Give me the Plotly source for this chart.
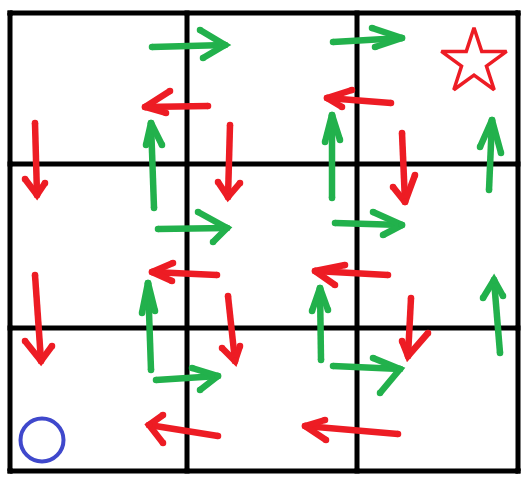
import plotly.graph_objects as go

# Grid line positions (pixel-like drawing units)
grid_x = [10, 187, 357, 518]
grid_y = [13, 164, 328, 471]

# Arrows: tail, head, wing1, wing2
red_tail_x = [208, 35, 230, 391, 402, 217, 35, 228, 218, 388, 411, 398]
red_tail_y = [106, 123, 125, 103, 133, 275, 275, 296, 436, 275, 298, 434]
red_head_x = [145, 37, 228, 327, 405, 152, 41, 235, 149, 315, 408, 305]
red_head_y = [107, 195, 197, 98, 202, 272, 361, 361, 425, 271, 356, 426]
red_w1_x = [170, 25, 218, 352, 393, 173, 25, 222, 163, 345, 402, 325]
red_w1_y = [91, 179, 182, 90, 187, 263, 341, 348, 415, 265, 341, 420]
red_w2_x = [166, 45, 240, 342, 415, 172, 52, 240, 163, 335, 428, 326]
red_w2_y = [113, 183, 183, 107, 175, 281, 346, 346, 443, 285, 333, 440]

green_tail_x = [152, 154, 158, 333, 332, 335, 489, 151, 156, 321, 333, 500]
green_tail_y = [47, 208, 229, 42, 198, 223, 190, 370, 380, 360, 366, 353]
green_head_x = [225, 151, 227, 402, 332, 402, 492, 148, 218, 320, 400, 494]
green_head_y = [45, 123, 228, 38, 115, 225, 120, 283, 376, 288, 369, 280]
green_w1_x = [200, 146, 198, 372, 325, 373, 480, 142, 192, 312, 373, 483]
green_w1_y = [30, 145, 212, 28, 142, 212, 147, 313, 368, 311, 358, 298]
green_w2_x = [203, 162, 213, 375, 340, 383, 501, 155, 200, 328, 380, 503]
green_w2_y = [58, 145, 242, 47, 140, 235, 153, 311, 390, 310, 393, 296]

# Goal star and start circle
star_x = [474]
star_y = [62]
circle_x = [42]
circle_y = [440]

RED = "#ed1c24"
GREEN = "#22b14c"
BLUE = "#3f48cc"


def arrow_path(tx, ty, hx, hy, w1x, w1y, w2x, w2y):
    xs, ys = [], []
    for i in range(len(tx)):
        xs += [tx[i], hx[i], None, w1x[i], hx[i], w2x[i], None]
        ys += [ty[i], hy[i], None, w1y[i], hy[i], w2y[i], None]
    return xs, ys


fig = go.Figure()

# grid
gx, gy = [], []
for x in grid_x:
    gx += [x, x, None]
    gy += [grid_y[0], grid_y[-1], None]
for y in grid_y:
    gx += [grid_x[0], grid_x[-1], None]
    gy += [y, y, None]
fig.add_trace(go.Scatter(x=gx, y=gy, mode="lines+markers",
                         line=dict(color="black", width=5),
                         marker=dict(color="black", size=5, symbol="square"),
                         hoverinfo="skip", showlegend=False))

rx, ry = arrow_path(red_tail_x, red_tail_y, red_head_x, red_head_y,
                    red_w1_x, red_w1_y, red_w2_x, red_w2_y)
fig.add_trace(go.Scatter(x=rx, y=ry, mode="lines+markers",
                         line=dict(color=RED, width=6.5),
                         marker=dict(color=RED, size=6.5),
                         hoverinfo="skip", showlegend=False))

gxs, gys = arrow_path(green_tail_x, green_tail_y, green_head_x, green_head_y,
                      green_w1_x, green_w1_y, green_w2_x, green_w2_y)
fig.add_trace(go.Scatter(x=gxs, y=gys, mode="lines+markers",
                         line=dict(color=GREEN, width=6.5),
                         marker=dict(color=GREEN, size=6.5),
                         hoverinfo="skip", showlegend=False))

fig.add_trace(go.Scatter(x=star_x, y=star_y, mode="markers",
                         marker=dict(symbol="star-open", size=49,
                                     color=RED, line=dict(color=RED, width=3.5)),
                         hoverinfo="skip", showlegend=False))

fig.add_trace(go.Scatter(x=circle_x, y=circle_y, mode="markers",
                         marker=dict(symbol="circle-open", size=43,
                                     color=BLUE, line=dict(color=BLUE, width=4)),
                         hoverinfo="skip", showlegend=False))

fig.update_layout(
    width=530, height=486,
    margin=dict(l=0, r=0, t=0, b=0),
    paper_bgcolor="white", plot_bgcolor="white",
    xaxis=dict(range=[0, 530], visible=False, fixedrange=True),
    yaxis=dict(range=[486, 0], visible=False, fixedrange=True),
)

fig.write_html("out.html", config={"displayModeBar": False},
               post_script="document.body.style.margin='0px';document.body.style.overflow='hidden';")
